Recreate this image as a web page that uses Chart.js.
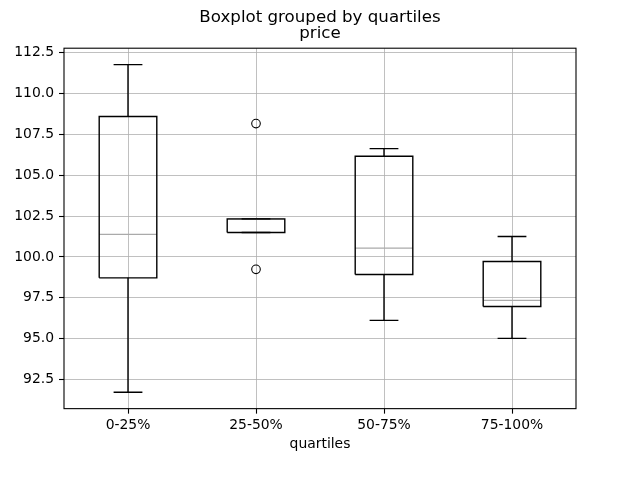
<!DOCTYPE html>
<html><head><meta charset="utf-8">
<script src="https://cdn.jsdelivr.net/npm/chart.js@4.4.1/dist/chart.umd.min.js"></script>
<style>html,body{margin:0;padding:0;background:#fff}canvas{display:block}</style>
</head><body>
<canvas id="c" width="640" height="480"></canvas>
<script>
// ---- data ----
const categories = ['0-25%', '25-50%', '50-75%', '75-100%'];
const whiskerLow = [91.72, 101.50, 96.12, 95.02];
const q1 = [98.72, 101.50, 98.93, 96.97];
const median = [101.38, 102.30, 100.54, 97.34];
const q3 = [108.59, 102.33, 106.16, 99.72];
const whiskerHigh = [111.77, 102.33, 106.63, 101.25];
const outliers = [[], [108.16, 99.24], [], []];
const yTickStep = 2.5;
const titleLines = ['Boxplot grouped by quartiles', 'price'];
const xTitle = 'quartiles';

// ---- build line segments from the arrays ----
const boxHalf = 0.225, capHalf = 0.1125;
const boxData = [], whiskerData = [], capData = [], medianData = [], outlierData = [];
categories.forEach((c, i) => {
  const x = i + 1;
  boxData.push({x: x - boxHalf, y: q1[i]}, {x: x + boxHalf, y: q1[i]}, {x: x + boxHalf, y: q3[i]},
               {x: x - boxHalf, y: q3[i]}, {x: x - boxHalf, y: q1[i]}, {x: x, y: null});
  whiskerData.push({x: x, y: q1[i]}, {x: x, y: whiskerLow[i]}, {x: x, y: null},
                   {x: x, y: q3[i]}, {x: x, y: whiskerHigh[i]}, {x: x, y: null});
  capData.push({x: x - capHalf, y: whiskerLow[i]}, {x: x + capHalf, y: whiskerLow[i]}, {x: x, y: null},
               {x: x - capHalf, y: whiskerHigh[i]}, {x: x + capHalf, y: whiskerHigh[i]}, {x: x, y: null});
  medianData.push({x: x - boxHalf, y: median[i]}, {x: x + boxHalf, y: median[i]}, {x: x, y: null});
  outliers[i].forEach(v => outlierData.push({x: x, y: v}));
});

const allVals = whiskerLow.concat(whiskerHigh, outliers.flat());
const dMin = Math.min(...allVals), dMax = Math.max(...allVals);
const margin = (dMax - dMin) * 0.05;

Chart.defaults.font.family = "'DejaVu Sans', sans-serif";
Chart.defaults.color = '#000';

const framePlugin = {
  id: 'frame',
  afterDatasetsDraw(chart) {
    const {ctx, chartArea: a} = chart;
    ctx.save();
    ctx.strokeStyle = '#000';
    ctx.lineWidth = 1.1;
    ctx.strokeRect(a.left, a.top, a.right - a.left, a.bottom - a.top);
    ctx.restore();
  }
};

const lineBase = {showLine: true, pointRadius: 0, spanGaps: false, fill: false,
                  borderColor: '#000', borderWidth: 1.4, borderJoinStyle: 'miter', tension: 0};

new Chart(document.getElementById('c'), {
  type: 'line',
  data: {
    datasets: [
      Object.assign({}, lineBase, {label: 'boxes', data: boxData}),
      Object.assign({}, lineBase, {label: 'caps', data: capData}),
      Object.assign({}, lineBase, {label: 'whiskers', data: whiskerData}),
      Object.assign({}, lineBase, {label: 'medians', data: medianData, borderColor: '#aaaaaa'}),
      {label: 'outliers', data: outlierData, showLine: false, pointStyle: 'circle', pointRadius: 4.3,
       pointBorderColor: '#000', pointBackgroundColor: 'rgba(0,0,0,0)', pointBorderWidth: 1.1}
    ]
  },
  options: {
    responsive: false,
    animation: false,
    devicePixelRatio: 1,
    layout: {padding: {left: 0, right: 0, top: 0, bottom: 27}},
    plugins: {
      legend: {display: false},
      tooltip: {enabled: false},
      title: {display: true, text: titleLines, color: '#000',
              font: {size: 16.67, weight: 'normal', lineHeight: 0.99},
              padding: {top: 9, bottom: 6.2}}
    },
    scales: {
      x: {
        type: 'linear', min: 0.5, max: 4.5,
        afterBuildTicks: s => { s.ticks = categories.map((c, i) => ({value: i + 1})); },
        ticks: {callback: v => categories[v - 1], font: {size: 13.9}, padding: 3, maxRotation: 0, autoSkip: false},
        grid: {color: '#b0b0b0', lineWidth: 0.8, tickLength: 5, tickColor: '#000', tickWidth: 1.1},
        border: {display: false},
        title: {display: true, text: xTitle, font: {size: 13.9}, padding: {top: 0, bottom: 0}}
      },
      y: {
        type: 'linear', min: dMin - margin, max: dMax + margin,
        afterFit: s => { s.width = 64; },
        ticks: {stepSize: yTickStep, includeBounds: false, font: {size: 13.9}, padding: 5,
                callback: v => Number(v).toFixed(1)},
        grid: {color: '#b0b0b0', lineWidth: 0.8, tickLength: 5, tickColor: '#000', tickWidth: 1.1},
        border: {display: false}
      },
      yRight: {
        type: 'linear', position: 'right', display: true,
        afterFit: s => { s.width = 64; },
        ticks: {display: false},
        grid: {display: false, drawTicks: false},
        border: {display: false}
      }
    }
  },
  plugins: [framePlugin]
});
</script>
</body></html>
